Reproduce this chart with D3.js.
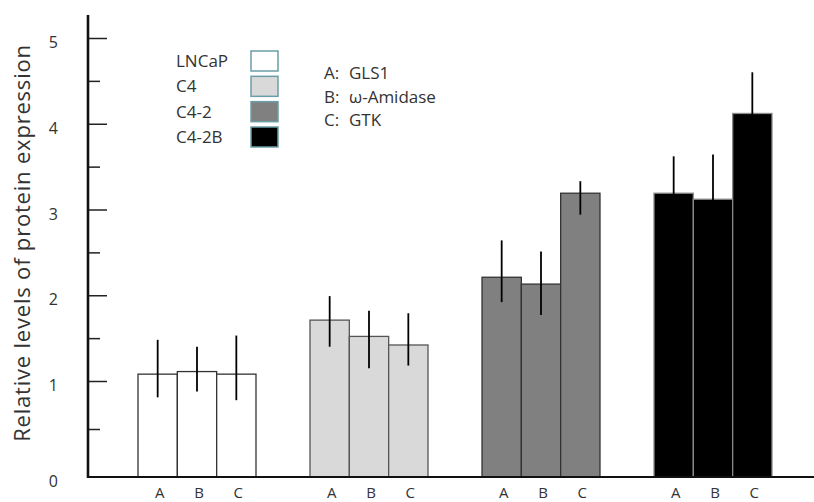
<!DOCTYPE html>
<html lang="en">
<head>
<meta charset="UTF-8">
<title>Relative levels of protein expression</title>
<script src="https://d3js.org/d3.v7.min.js"></script>
<style>
  body { margin: 0; background: #fff; }
  text { font-family: "Open Sans", sans-serif; fill: #333; }
</style>
</head>
<body>
<div id="chart"></div>
<script>
    const width = 814;
    const height = 502;

    // data
    const cellLines = ["LNCaP", "C4", "C4-2", "C4-2B"];
    const proteins = ["A", "B", "C"];
    const proteinNames = ["GLS1", "ω-Amidase", "GTK"];
    const values = [
        [1.08, 1.11, 1.08],
        [1.71, 1.52, 1.42],
        [2.21, 2.13, 3.19],
        [3.19, 3.12, 4.12]
    ];
    const errHigh = [
        [1.48, 1.40, 1.53],
        [1.99, 1.82, 1.79],
        [2.64, 2.51, 3.33],
        [3.62, 3.64, 4.60]
    ];
    const errLow = [
        [0.83, 0.89, 0.80],
        [1.40, 1.15, 1.18],
        [1.92, 1.77, 2.94],
        [2.76, 2.60, 3.64]
    ];
    const majorTicks = [0, 1, 2, 3, 4, 5];
    const minorTicks = [0.5, 1.5, 2.5, 3.5, 4.5];

    const fills = ["#ffffff", "#d9d9d9", "#808080", "#000000"];
    const strokes = ["#333", "#555", "#333", "#8a8a8a"];
    const swatchStroke = "#6a9ea6";

    const axisX = 88;
    const baseY = 477;

    const svg = d3.select("#chart")
        .append("svg")
        .attr("width", width)
        .attr("height", height);

    // the original axis is a bit stretched between 0 and 1
    const y = d3.scaleLinear()
        .domain([0, 1, 5])
        .range([baseY, 381, 38]);

    const x0 = d3.scaleBand()
        .domain(cellLines)
        .range([111, 799])
        .paddingInner(0.314)
        .paddingOuter(0.157);

    const x1 = d3.scaleBand()
        .domain(proteins)
        .range([0, x0.bandwidth()]);

    // bars
    const groups = svg.selectAll("g.group")
        .data(cellLines)
        .enter()
        .append("g")
        .attr("class", "group")
        .attr("transform", d => `translate(${x0(d)},0)`);

    groups.each(function (line, gi) {
        const g = d3.select(this);
        const rows = proteins.map((p, i) => ({
            p, v: values[gi][i], hi: errHigh[gi][i], lo: errLow[gi][i]
        }));

        g.selectAll("rect")
            .data(rows)
            .enter()
            .append("rect")
            .attr("x", d => x1(d.p))
            .attr("y", d => y(d.v))
            .attr("width", x1.bandwidth())
            .attr("height", d => baseY - y(d.v))
            .attr("fill", fills[gi])
            .attr("stroke", strokes[gi])
            .attr("stroke-width", 1.3);

        g.selectAll("line.err")
            .data(rows)
            .enter()
            .append("line")
            .attr("class", "err")
            .attr("x1", d => x1(d.p) + x1.bandwidth() / 2)
            .attr("x2", d => x1(d.p) + x1.bandwidth() / 2)
            .attr("y1", d => y(d.hi))
            .attr("y2", d => y(d.lo))
            .attr("stroke", "#000")
            .attr("stroke-width", 1.8);

        g.selectAll("text.cat")
            .data(rows)
            .enter()
            .append("text")
            .attr("class", "cat")
            .attr("x", d => x1(d.p) + x1.bandwidth() / 2 + 2)
            .attr("y", 498)
            .attr("text-anchor", "middle")
            .attr("font-size", 15)
            .text(d => d.p);
    });

    // y axis
    const yAxis = svg.append("g")
        .attr("transform", `translate(${axisX},0)`)
        .call(d3.axisLeft(y).tickValues(majorTicks).tickSize(-19).tickPadding(30).tickFormat(d3.format("d")));
    yAxis.select(".domain").remove();
    yAxis.selectAll(".tick line").attr("stroke", "#222").attr("stroke-width", 1.5);
    yAxis.selectAll(".tick text")
        .attr("font-size", 16)
        .attr("font-family", "Open Sans, sans-serif")
        .attr("fill", "#333")
        .attr("dy", "0.6em");
    yAxis.selectAll(".tick").filter(d => d === 0).select("line").remove();

    const yMinor = svg.append("g")
        .attr("transform", `translate(${axisX},0)`)
        .call(d3.axisLeft(y).tickValues(minorTicks).tickSize(-12).tickFormat(""));
    yMinor.select(".domain").remove();
    yMinor.selectAll(".tick line").attr("stroke", "#222").attr("stroke-width", 1.5);

    svg.append("line")
        .attr("x1", axisX).attr("x2", axisX)
        .attr("y1", 15).attr("y2", baseY + 1)
        .attr("stroke", "#111")
        .attr("stroke-width", 2.6);

    svg.append("line")
        .attr("x1", axisX - 1).attr("x2", width)
        .attr("y1", baseY).attr("y2", baseY)
        .attr("stroke", "#111")
        .attr("stroke-width", 2.2);

    svg.append("text")
        .attr("transform", `translate(30,${243}) rotate(-90)`)
        .attr("text-anchor", "middle")
        .attr("font-size", 22)
        .attr("letter-spacing", "0.8px")
        .text("Relative levels of protein expression");

    // legend: cell lines
    const legend = svg.append("g").attr("transform", "translate(176,0)");
    const legendY = d3.scalePoint().domain(cellLines).range([61, 137]);

    legend.selectAll("text")
        .data(cellLines)
        .enter()
        .append("text")
        .attr("x", 0)
        .attr("y", d => legendY(d))
        .attr("dy", "0.36em")
        .attr("font-size", 17)
        .text(d => d);

    legend.selectAll("rect")
        .data(cellLines)
        .enter()
        .append("rect")
        .attr("x", 75)
        .attr("y", d => legendY(d) - 10)
        .attr("width", 27)
        .attr("height", 20)
        .attr("fill", (d, i) => fills[i])
        .attr("stroke", swatchStroke)
        .attr("stroke-width", 1.5);

    // legend: proteins
    const legend2 = svg.append("g");
    const legend2Y = d3.scalePoint().domain(proteins).range([73, 120]);

    legend2.selectAll("text.key")
        .data(proteins)
        .enter()
        .append("text")
        .attr("class", "key")
        .attr("x", 324)
        .attr("y", d => legend2Y(d))
        .attr("dy", "0.36em")
        .attr("font-size", 17)
        .text(d => d + ":");

    legend2.selectAll("text.name")
        .data(proteins)
        .enter()
        .append("text")
        .attr("class", "name")
        .attr("x", 349)
        .attr("y", d => legend2Y(d))
        .attr("dy", "0.36em")
        .attr("font-size", 17)
        .text((d, i) => proteinNames[i]);
</script>
</body>
</html>
